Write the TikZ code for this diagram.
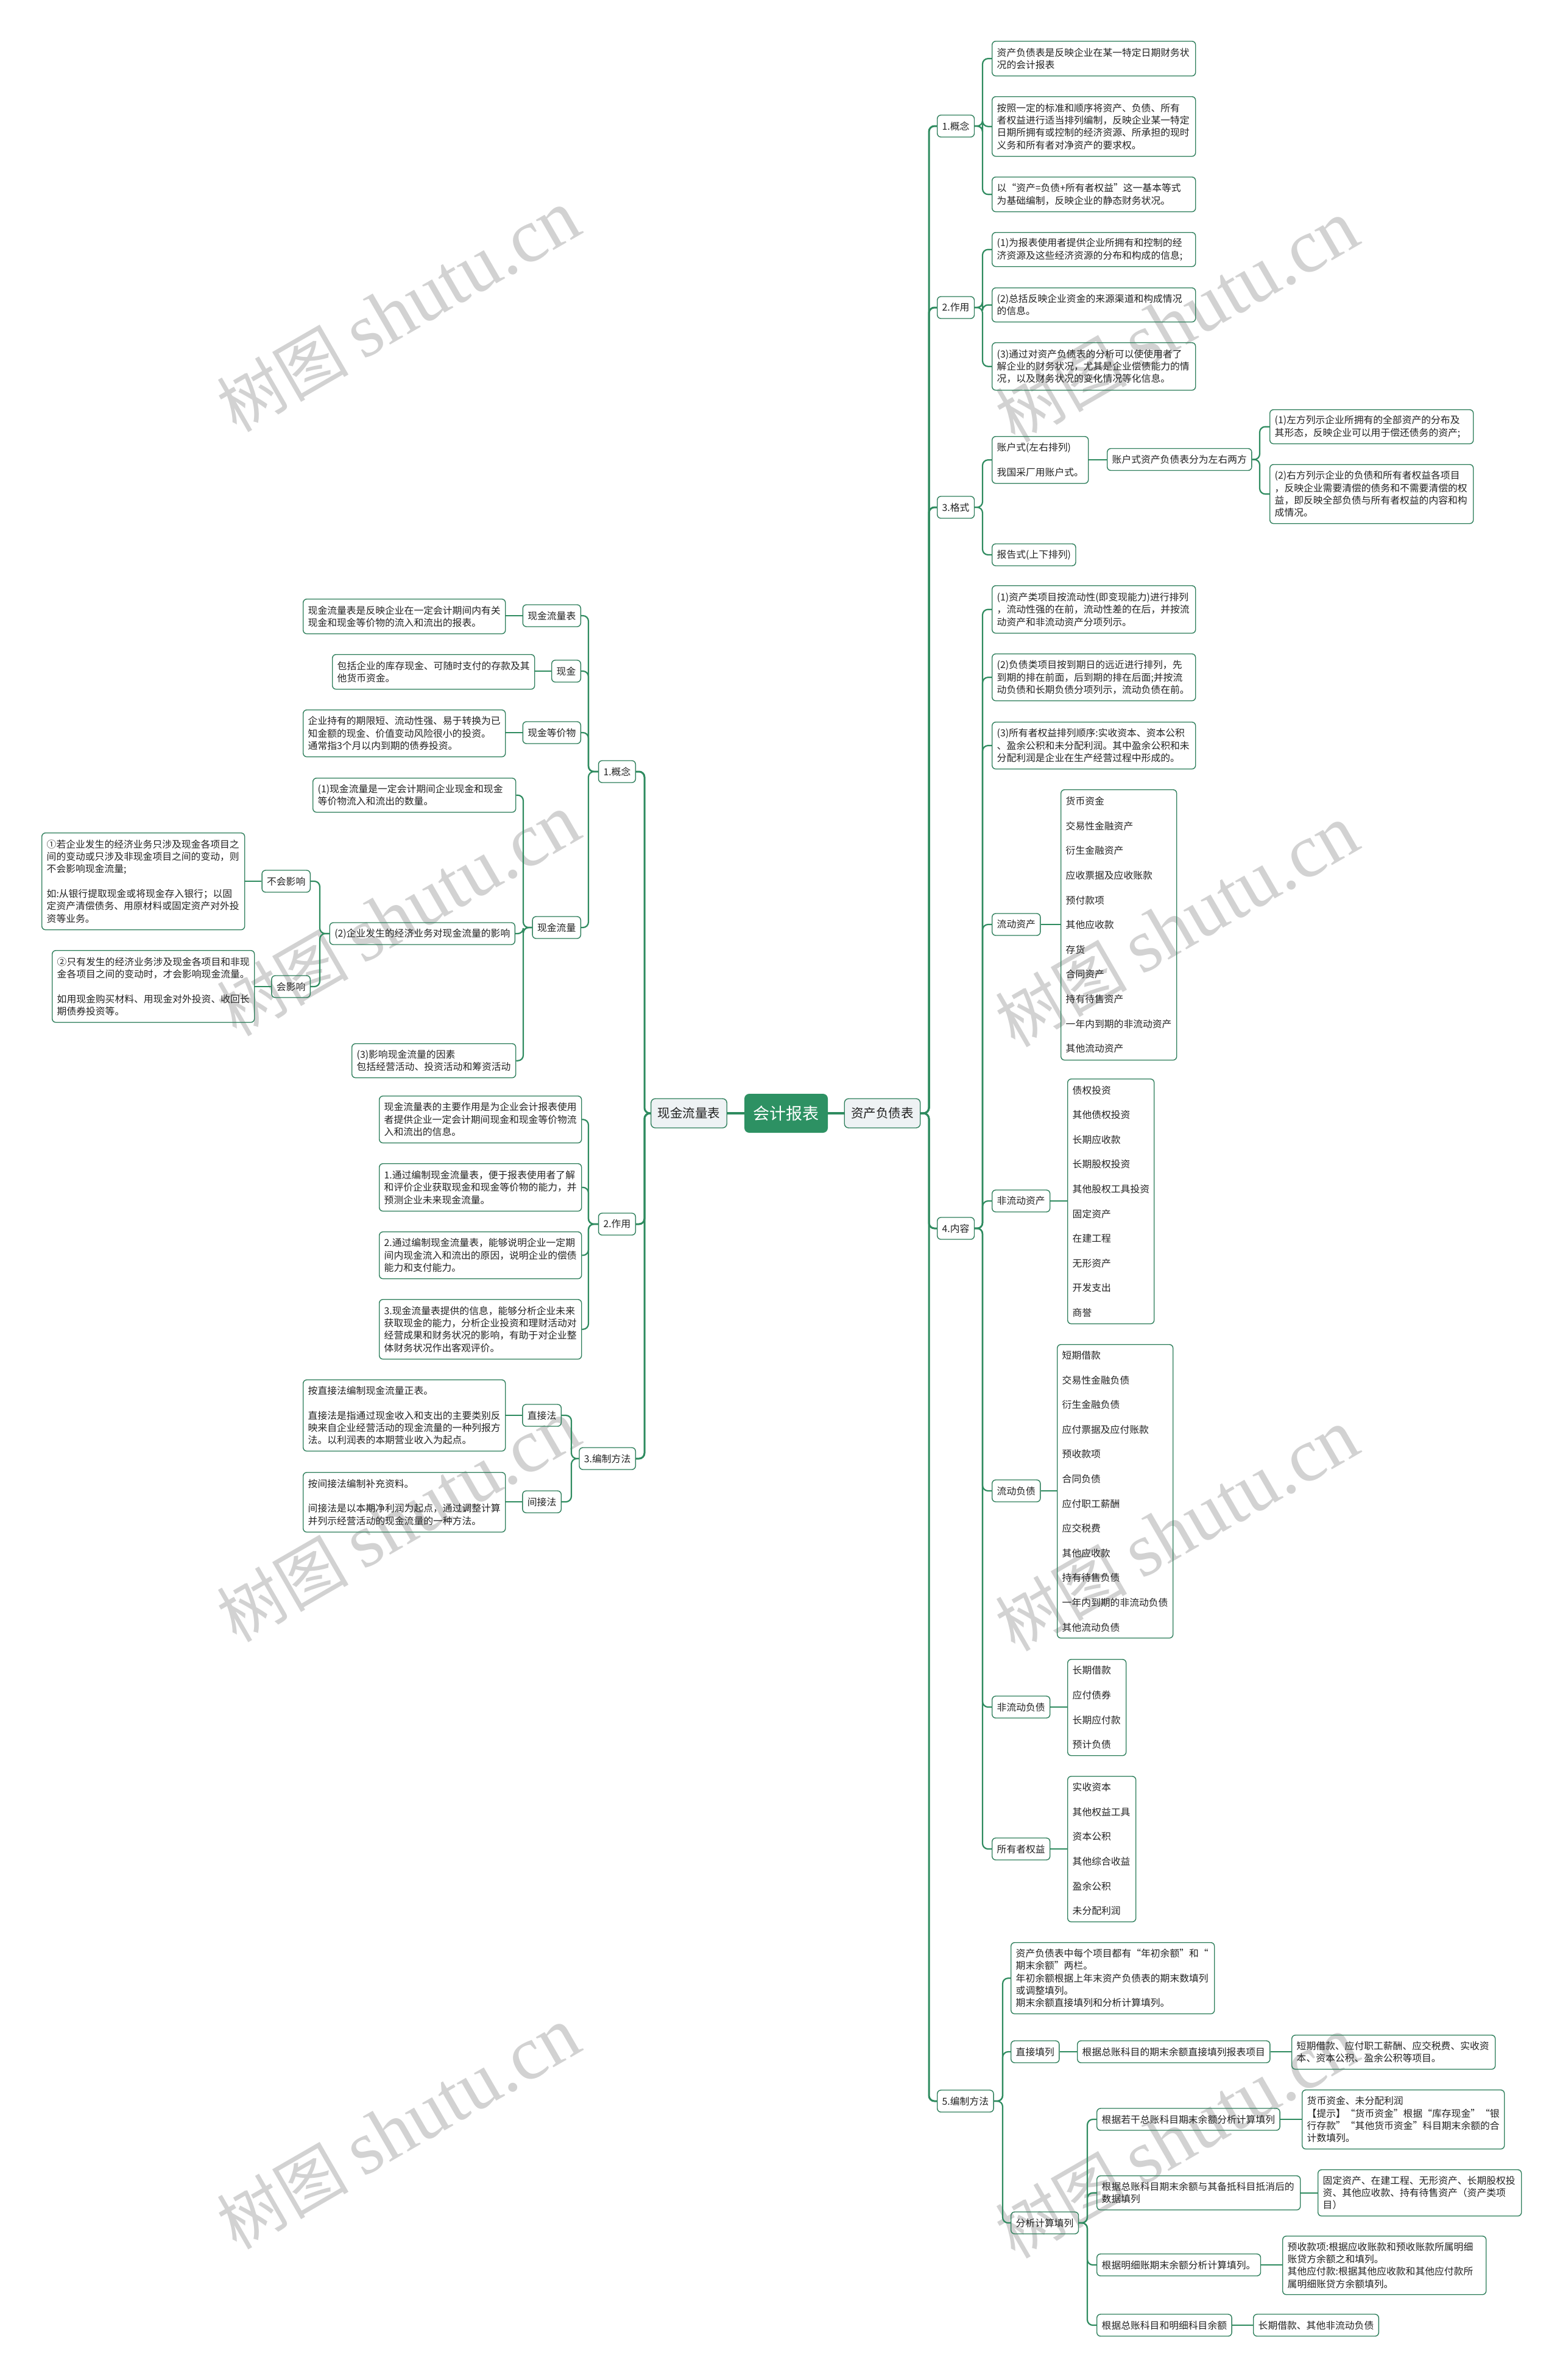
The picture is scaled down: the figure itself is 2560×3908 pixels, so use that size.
\documentclass[tikz,border=0pt]{standalone}
\usepackage{fontspec}
\setmainfont{Noto Sans CJK SC}
\newfontfamily\wmlat{Liberation Serif}
\usetikzlibrary{calc}
\definecolor{lg}{HTML}{2E8B5F}
\definecolor{bd}{HTML}{2F7F5C}
\definecolor{cf}{HTML}{2D9163}
\definecolor{mf}{HTML}{EEF2F4}
\definecolor{wm}{HTML}{D2D2D2}
\definecolor{tx}{HTML}{222222}
\newcommand\fs{\fontsize{15.8}{20.3}\selectfont}
\newcommand\bl{\\\mbox{}\\}
\newcommand\TB[5]{\node[tb,text width=#3pt,minimum height=#4pt] (#1) at (#2) {#5};}
\newcommand\CR[3]{\draw[conn] (#1.east) -- (#1.east -| #3,0) |- (#2.west);}
\newcommand\CL[3]{\draw[conn] (#1.west) -- (#1.west -| #3,0) |- (#2.east);}
\newcommand\SR[2]{\draw[conn] (#1.east) -- (#1.east -| #2.west);}
\newcommand\SL[2]{\draw[conn] (#1.west) -- (#1.west -| #2.east);}
\tikzset{
  tb/.style={draw=bd, line width=1.4pt, rounded corners=6pt, inner xsep=8pt, inner ysep=4pt, align=left, font=\fs, text=tx, anchor=north west},
  sn/.style={draw=bd, line width=1.4pt, rounded corners=6pt, inner xsep=8pt, inner ysep=3pt, minimum height=36pt, font=\fs, text=tx},
  mn/.style={draw=bd, fill=mf, line width=1.4pt, rounded corners=7pt, inner xsep=11pt, minimum height=48pt, font=\fontsize{20.5}{24}\selectfont, text=tx},
  cn/.style={fill=cf, rounded corners=8pt, minimum width=137pt, minimum height=64pt, font=\fontsize{27}{30}\selectfont, text=white},
  conn/.style={draw=lg, line width=2.2pt, rounded corners=9pt},
  conn1/.style={draw=lg, line width=3pt, rounded corners=9pt},
  conn0/.style={draw=lg, line width=4.5pt},
  wmk/.style={text=wm, font=\fontsize{108}{110}\selectfont, rotate=30, inner sep=0pt}
}
\begin{document}
\begin{tikzpicture}[x=1pt,y=-1pt]
\fill[white] (0,0) rectangle (2560,3908);
\useasboundingbox (0,0) rectangle (2560,3908);
% watermarks
\foreach \p [count=\i] in {{654,511},{1932,528},{654,1503},{1932,1521},{654,2498},{1932,2513},{654,3495},{1932,3510}}
  {\node[wmk] (wm\i) at (\p) {树图 {\wmlat\fontsize{125}{130}\selectfont shutu.cn}};}

% center
\node[cn] (zc) at (1290.5,1828) {会计报表};
\node[mn] (zl) at (1131,1828) {现金流量表};
\node[mn] (zr) at (1448.5,1828) {资产负债表};

% ---------------- right ----------------
\node[sn,anchor=west] (r1) at (1538,207) {1.概念};
\node[sn,anchor=west] (r2) at (1538,505) {2.作用};
\node[sn,anchor=west] (r3) at (1538,833) {3.格式};
\node[sn,anchor=west] (r4) at (1538,2017) {4.内容};
\node[sn,anchor=west] (r5) at (1538,3450) {5.编制方法};

\TB{r1a}{1628,67}{318}{57}{资产负债表是反映企业在某一特定日期财务状\\况的会计报表}
\TB{r1b}{1628,158}{318}{98}{按照一定的标准和顺序将资产、负债、所有\\者权益进行适当排列编制，反映企业某一特定\\日期所拥有或控制的经济资源、所承担的现时\\义务和所有者对净资产的要求权。}
\TB{r1c}{1628,290}{318}{57}{以“资产=负债+所有者权益”这一基本等式\\为基础编制，反映企业的静态财务状况。}

\TB{r2a}{1628,381}{318}{56}{(1)为报表使用者提供企业所拥有和控制的经\\济资源及这些经济资源的分布和构成的信息;}
\TB{r2b}{1628,472}{318}{56}{(2)总括反映企业资金的来源渠道和构成情况\\的信息。}
\TB{r2c}{1628,562}{318}{78}{(3)通过对资产负债表的分析可以使使用者了\\解企业的财务状况，尤其是企业偿债能力的情\\况，以及财务状况的变化情况等化信息。}

\TB{r3a}{1628,716}{142}{77}{账户式(左右排列)\bl 我国采厂用账户式。}
\node[sn,anchor=west] (r3a1) at (1817,754.5) {账户式资产负债表分为左右两方};
\TB{r3a1a}{2084,672}{318}{56}{(1)左方列示企业所拥有的全部资产的分布及\\其形态，反映企业可以用于偿还债务的资产;}
\TB{r3a1b}{2084,762}{318}{97}{(2)右方列示企业的负债和所有者权益各项目\\，反映企业需要清偿的债务和不需要清偿的权\\益，即反映全部负债与所有者权益的内容和构\\成情况。}
\node[sn,anchor=west] (r3b) at (1628,911) {报告式(上下排列)};

\TB{r4a}{1628,961}{318}{78}{(1)资产类项目按流动性(即变现能力)进行排列\\，流动性强的在前，流动性差的在后，并按流\\动资产和非流动资产分项列示。}
\TB{r4b}{1628,1073}{318}{77}{(2)负债类项目按到期日的远近进行排列，先\\到期的排在前面，后到期的排在后面;并按流\\动负债和长期负债分项列示，流动负债在前。}
\TB{r4c}{1628,1185}{318}{77}{(3)所有者权益排列顺序:实收资本、资本公积\\、盈余公积和未分配利润。其中盈余公积和未\\分配利润是企业在生产经营过程中形成的。}
\node[sn,anchor=west] (r4d) at (1628,1518) {流动资产};
\TB{r4d1}{1741,1296}{174}{444}{货币资金\bl 交易性金融资产\bl 衍生金融资产\bl 应收票据及应收账款\bl 预付款项\bl 其他应收款\bl 存货\bl 合同资产\bl 持有待售资产\bl 一年内到期的非流动资产\bl 其他流动资产}
\node[sn,anchor=west] (r4e) at (1628,1972) {非流动资产};
\TB{r4e1}{1752,1771}{126}{402}{债权投资\bl 其他债权投资\bl 长期应收款\bl 长期股权投资\bl 其他股权工具投资\bl 固定资产\bl 在建工程\bl 无形资产\bl 开发支出\bl 商誉}
\node[sn,anchor=west] (r4f) at (1628,2448) {流动负债};
\TB{r4f1}{1735,2207}{174}{482}{短期借款\bl 交易性金融负债\bl 衍生金融负债\bl 应付票据及应付账款\bl 预收款项\bl 合同负债\bl 应付职工薪酬\bl 应交税费\bl 其他应收款\bl 持有待售负债\bl 一年内到期的非流动负债\bl 其他流动负债}
\node[sn,anchor=west] (r4g) at (1628,2803) {非流动负债};
\TB{r4g1}{1752,2724}{80}{158}{长期借款\bl 应付债券\bl 长期应付款\bl 预计负债}
\node[sn,anchor=west] (r4h) at (1628,3036) {所有者权益};
\TB{r4h1}{1752,2916}{96}{239}{实收资本\bl 其他权益工具\bl 资本公积\bl 其他综合收益\bl 盈余公积\bl 未分配利润}

\TB{r5a}{1659,3189}{318}{117}{资产负债表中每个项目都有“年初余额”和“\\期末余额”两栏。\\年初余额根据上年末资产负债表的期末数填列\\或调整填列。\\期末余额直接填列和分析计算填列。}
\node[sn,anchor=west] (r5b) at (1659,3369) {直接填列};
\node[sn,anchor=west] (r5b1) at (1768,3369) {根据总账科目的期末余额直接填列报表项目};
\TB{r5b1a}{2120,3341}{318}{56}{短期借款、应付职工薪酬、应交税费、实收资\\本、资本公积、盈余公积等项目。}
\node[sn,anchor=west] (r5c) at (1659,3650) {分析计算填列};
\node[sn,anchor=west] (r5c1) at (1800,3480) {根据若干总账科目期末余额分析计算填列};
\TB{r5c1a}{2137,3431}{316}{97}{货币资金、未分配利润\\【提示】“货币资金”根据“库存现金”“银\\行存款”“其他货币资金”科目期末余额的合\\计数填列。}
\TB{r5c2}{1800,3572}{318}{56}{根据总账科目期末余额与其备抵科目抵消后的\\数据填列}
\TB{r5c2a}{2163,3562}{318}{76}{固定资产、在建工程、无形资产、长期股权投\\资、其他应收款、持有待售资产（资产类项\\目）}
\node[sn,anchor=west] (r5c3) at (1800,3719) {根据明细账期末余额分析计算填列。};
\TB{r5c3a}{2105,3671}{318}{96}{预收款项:根据应收账款和预收账款所属明细\\账贷方余额之和填列。\\其他应付款:根据其他应收款和其他应付款所\\属明细账贷方余额填列。}
\node[sn,anchor=west] (r5c4) at (1800,3818) {根据总账科目和明细科目余额};
\node[sn,anchor=west] (r5c4a) at (2057,3818) {长期借款、其他非流动负债};

% ---------------- left ----------------
\node[sn,anchor=east] (l1) at (1044,1267) {1.概念};
\node[sn,anchor=east] (l2) at (1044,2010) {2.作用};
\node[sn,anchor=east] (l3) at (1044,2395) {3.编制方法};

\node[sn,anchor=east] (l1a) at (954,1011) {现金流量表};
\TB{l1a1}{497,983}{316}{57}{现金流量表是反映企业在一定会计期间内有关\\现金和现金等价物的流入和流出的报表。}
\node[sn,anchor=east] (l1b) at (954,1102) {现金};
\TB{l1b1}{545,1074}{316}{57}{包括企业的库存现金、可随时支付的存款及其\\他货币资金。}
\node[sn,anchor=east] (l1c) at (954,1203) {现金等价物};
\TB{l1c1}{497,1165}{316}{77}{企业持有的期限短、流动性强、易于转换为已\\知金额的现金、价值变动风险很小的投资。\\通常指3个月以内到期的债券投资。}
\node[sn,anchor=east] (l1d) at (954,1523) {现金流量};
\TB{l1d1}{513,1277}{317}{56}{(1)现金流量是一定会计期间企业现金和现金\\等价物流入和流出的数量。}
\node[sn,anchor=east] (l1d2) at (846,1533) {(2)企业发生的经济业务对现金流量的影响};
\node[sn,anchor=east] (l1d2a) at (510,1447) {不会影响};
\TB{l1d2a1}{68,1367}{317}{159}{①若企业发生的经济业务只涉及现金各项目之\\间的变动或只涉及非现金项目之间的变动，则\\不会影响现金流量;\bl 如:从银行提取现金或将现金存入银行；以固\\定资产清偿债务、用原材料或固定资产对外投\\资等业务。}
\node[sn,anchor=east] (l1d2b) at (510,1620) {会影响};
\TB{l1d2b1}{85,1560}{316}{118}{②只有发生的经济业务涉及现金各项目和非现\\金各项目之间的变动时，才会影响现金流量。\bl 如用现金购买材料、用现金对外投资、收回长\\期债券投资等。}
\TB{l1d3}{577,1713}{253}{56}{(3)影响现金流量的因素\\包括经营活动、投资活动和筹资活动}

\TB{l2a}{622,1799}{316}{77}{现金流量表的主要作用是为企业会计报表使用\\者提供企业一定会计期间现金和现金等价物流\\入和流出的信息。}
\TB{l2b}{622,1910}{316}{78}{1.通过编制现金流量表，便于报表使用者了解\\和评价企业获取现金和现金等价物的能力，并\\预测企业未来现金流量。}
\TB{l2c}{622,2022}{316}{77}{2.通过编制现金流量表，能够说明企业一定期\\间内现金流入和流出的原因，说明企业的偿债\\能力和支付能力。}
\TB{l2d}{622,2133}{316}{98}{3.现金流量表提供的信息，能够分析企业未来\\获取现金的能力，分析企业投资和理财活动对\\经营成果和财务状况的影响，有助于对企业整\\体财务状况作出客观评价。}

\node[sn,anchor=east] (l3a) at (922,2324) {直接法};
\TB{l3a1}{497,2265}{316}{117}{按直接法编制现金流量正表。\bl 直接法是指通过现金收入和支出的主要类别反\\映来自企业经营活动的现金流量的一种列报方\\法。以利润表的本期营业收入为起点。}
\node[sn,anchor=east] (l3b) at (922,2466) {间接法};
\TB{l3b1}{497,2417}{316}{98}{按间接法编制补充资料。\bl 间接法是以本期净利润为起点，通过调整计算\\并列示经营活动的现金流量的一种方法。}

% ---------------- connectors ----------------
\draw[conn0] (zc.east) -- (zr.west);
\draw[conn0] (zc.west) -- (zl.east);
\foreach \k in {r1,r2,r3,r4,r5}
  {\draw[conn1] (zr.east) -- (zr.east -| 1525,0) |- (\k.west);}
\foreach \k in {l1,l2,l3}
  {\draw[conn1] (zl.west) -- (zl.west -| 1058,0) |- (\k.east);}

\foreach \k in {r1a,r1b,r1c} {\CR{r1}{\k}{1613}}
\foreach \k in {r2a,r2b,r2c} {\CR{r2}{\k}{1613}}
\foreach \k in {r3a,r3b} {\CR{r3}{\k}{1613}}
\SR{r3a}{r3a1}
\foreach \k in {r3a1a,r3a1b} {\CR{r3a1}{\k}{2068}}
\foreach \k in {r4a,r4b,r4c,r4d,r4e,r4f,r4g,r4h} {\CR{r4}{\k}{1613}}
\SR{r4d}{r4d1}
\SR{r4e}{r4e1}
\SR{r4f}{r4f1}
\SR{r4g}{r4g1}
\SR{r4h}{r4h1}
\foreach \k in {r5a,r5b,r5c} {\CR{r5}{\k}{1646}}
\SR{r5b}{r5b1}
\SR{r5b1}{r5b1a}
\foreach \k in {r5c1,r5c2,r5c3,r5c4} {\CR{r5c}{\k}{1785}}
\SR{r5c1}{r5c1a}
\SR{r5c2}{r5c2a}
\SR{r5c3}{r5c3a}
\SR{r5c4}{r5c4a}

\foreach \k in {l1a,l1b,l1c,l1d} {\CL{l1}{\k}{966}}
\SL{l1a}{l1a1}
\SL{l1b}{l1b1}
\SL{l1c}{l1c1}
\foreach \k in {l1d1,l1d2,l1d3} {\CL{l1d}{\k}{859}}
\foreach \k in {l1d2a,l1d2b} {\CL{l1d2}{\k}{525}}
\SL{l1d2a}{l1d2a1}
\SL{l1d2b}{l1d2b1}
\foreach \k in {l2a,l2b,l2c,l2d} {\CL{l2}{\k}{966}}
\foreach \k in {l3a,l3b} {\CL{l3}{\k}{938}}
\SL{l3a}{l3a1}
\SL{l3b}{l3b1}
\end{tikzpicture}
\end{document}
